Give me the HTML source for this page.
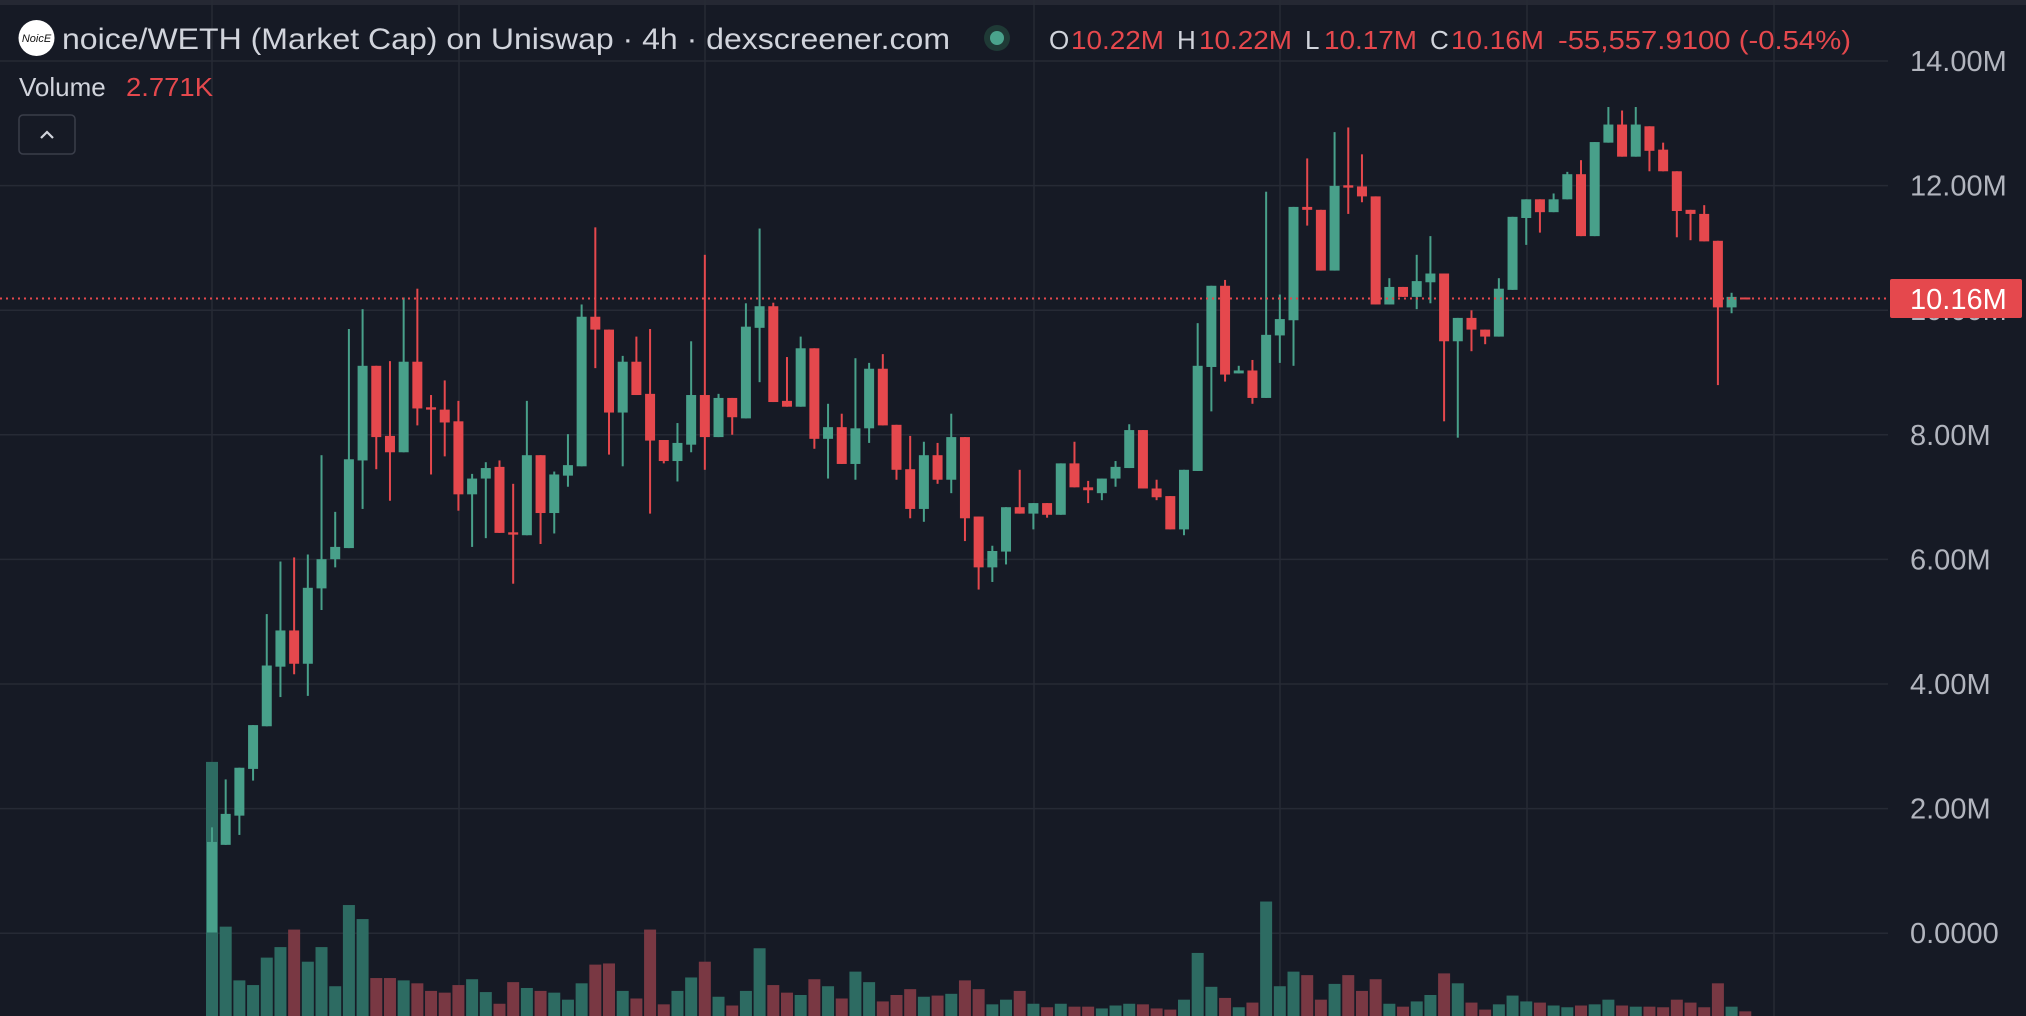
<!DOCTYPE html>
<html><head><meta charset="utf-8"><style>
html,body{margin:0;padding:0;background:#161a25;width:2026px;height:1016px;overflow:hidden}
svg{display:block}
text{font-family:"Liberation Sans",sans-serif}
</style></head><body>
<svg id="s" width="2026" height="1016" viewBox="0 0 2026 1016" xmlns="http://www.w3.org/2000/svg">
<rect width="2026" height="1016" fill="#161a25"/>
<rect width="2026" height="5" fill="#252833"/>
<g id="grid" stroke="#262a35" stroke-width="1.5"></g>
<g id="vol"></g>
<g id="cdl"></g>
<line x1="0" y1="298.5" x2="1890" y2="298.5" stroke="#e5484d" stroke-width="2" stroke-dasharray="2,4"/>
<g id="axis" font-size="29" fill="#b2b5be"></g>
<rect x="1890" y="279" width="132" height="39" rx="2" fill="#e5484d"/>
<text x="1910" y="309" font-size="29" fill="#ffffff">10.16M</text>
<circle cx="36.5" cy="38" r="18" fill="#ffffff"/>
<text x="36.5" y="42" font-size="11" fill="#111" text-anchor="middle" font-style="italic">NoicE</text>
<text x="62" y="49" font-size="30" fill="#d1d4dc" textLength="888" lengthAdjust="spacingAndGlyphs">noice/WETH (Market Cap) on Uniswap · 4h · dexscreener.com</text>
<circle cx="997" cy="38" r="13" fill="#1f3a36"/>
<circle cx="997" cy="38" r="7" fill="#4aa38c"/>
<g font-size="26">
<text x="1049" y="49" fill="#d1d4dc">O</text><text x="1071" y="49" fill="#e5484d" textLength="93" lengthAdjust="spacingAndGlyphs">10.22M</text>
<text x="1177" y="49" fill="#d1d4dc">H</text><text x="1199" y="49" fill="#e5484d" textLength="93" lengthAdjust="spacingAndGlyphs">10.22M</text>
<text x="1305" y="49" fill="#d1d4dc">L</text><text x="1324" y="49" fill="#e5484d" textLength="93" lengthAdjust="spacingAndGlyphs">10.17M</text>
<text x="1430" y="49" fill="#d1d4dc">C</text><text x="1451" y="49" fill="#e5484d" textLength="93" lengthAdjust="spacingAndGlyphs">10.16M</text>
<text x="1558" y="49" fill="#e5484d" textLength="293" lengthAdjust="spacingAndGlyphs">-55,557.9100 (-0.54%)</text>
</g>
<text x="19" y="96" font-size="26" fill="#d1d4dc">Volume</text>
<text x="126" y="96" font-size="26" fill="#e5484d" textLength="87" lengthAdjust="spacingAndGlyphs">2.771K</text>
<rect x="19" y="115" width="56" height="39" rx="4" fill="#161a25" stroke="#3a3e4a" stroke-width="1.5"/>
<polyline points="41,138 47,132 53,138" fill="none" stroke="#d1d4dc" stroke-width="2.2"/>
</svg>
<script>
var NS="http://www.w3.org/2000/svg";
function el(p,t,a){var e=document.createElementNS(NS,t);for(var k in a)e.setAttribute(k,a[k]);p.appendChild(e);return e;}
var grid=document.getElementById('grid');
[212,459,705,1034,1280,1527,1774].forEach(function(x){el(grid,'line',{x1:x,y1:0,x2:x,y2:1016});});
var labels=['14.00M','12.00M','10.00M','8.00M','6.00M','4.00M','2.00M','0.0000'];
var axis=document.getElementById('axis');
for(var k=0;k<8;k++){var y=61+k*124.6;el(grid,'line',{x1:0,y1:y,x2:1888,y2:y});
var t=el(axis,'text',{x:1910,y:y+10});t.textContent=labels[k];}
var D=`g 1270 1425 1245 1425 1133
g 1222 1275 1163 1275 1415
g 1143 1225 1143 1258 1507
g 1070 1145 1070 1165 1515
g 968 1072 880 1072 1468
g 908 970 790 1022 1450
r 908 965 783 983 1420
g 835 965 778 1020 1475
g 786 836 608 873 1450
g 765 786 705 800 1517
g 615 767 392 767 1378
g 455 617 358 700 1402
r 455 577 455 632 1503
r 575 603 447 686 1503
g 448 603 338 603 1507
r 448 528 323 557 1512
r 526 530 505 641 1525
r 530 552 480 610 1528
r 550 675 515 703 1515
g 648 675 640 765 1505
g 630 648 620 750 1527
r 628 741 617 741 1547
r 740 744 657 828 1510
g 608 745 515 745 1520
r 608 707 608 760 1525
g 641 707 636 742 1528
g 625 643 572 662 1540
g 371 627 350 627 1512
r 371 393 218 459 1480
r 393 535 393 607 1478
g 448 535 438 627 1525
r 448 505 405 505 1538
r 503 583 392 708 1420
r 582 618 582 622 1548
g 587 618 553 653 1525
g 505 590 413 603 1502
r 505 577 265 633 1475
g 510 577 503 577 1535
r 510 543 510 573 1550
g 388 545 348 545 1525
g 353 390 220 483 1452
r 353 517 347 517 1515
r 515 525 440 525 1528
g 425 525 405 525 1532
r 425 580 425 597 1505
g 560 580 520 648 1517
r 560 623 537 623 1538
g 562 623 442 650 1492
g 460 562 450 587 1510
r 460 557 435 557 1543
r 556 633 556 650 1532
r 632 700 575 716 1522
g 608 700 585 722 1535
r 608 650 587 657 1533
g 577 650 537 673 1530
r 577 716 577 755 1507
r 713 800 713 838 1522
g 772 800 763 825 1548
g 697 773 697 795 1540
r 697 708 633 708 1525
g 690 708 690 735 1547
r 690 710 690 715 1553
g 622 710 622 710 1547
r 622 663 585 663 1552
r 663 668 652 690 1552
g 648 673 648 685 1555
g 628 648 618 662 1550
g 565 630 555 630 1547
r 565 665 565 665 1548
r 665 680 650 685 1555
r 678 735 678 735 1557
g 633 735 633 745 1540
g 455 635 382 635 1460
g 318 457 318 533 1518
r 318 470 308 482 1537
g 463 468 455 468 1553
r 463 510 445 520 1545
g 402 510 157 510 1372
g 375 403 333 450 1517
g 183 377 183 455 1492
r 183 188 100 215 1498
r 188 292 188 292 1540
g 147 292 55 292 1513
r 146 150 47 195 1498
r 148 165 93 175 1525
r 165 350 165 350 1505
g 320 350 305 350 1547
r 320 337 320 337 1552
g 310 337 265 358 1543
g 297 312 233 348 1532
r 297 413 297 550 1495
g 373 413 373 578 1512
r 373 393 360 430 1545
r 393 405 393 418 1557
g 323 405 305 405 1548
g 200 325 200 325 1533
g 170 202 170 248 1543
r 170 192 170 227 1545
g 170 192 160 192 1550
g 127 170 123 170 1553
r 127 233 103 233 1550
g 72 233 72 233 1548
g 42 73 12 73 1540
r 42 97 18 97 1550
g 42 97 12 97 1552
r 45 87 45 122 1552
r 85 122 73 122 1553
r 122 190 122 235 1540
r 188 195 188 240 1545
r 195 242 180 242 1553
r 241 355 241 488 1512
g 337 355 330 365 1552
r 338 341 338 341 1560`;
var rows=D.split('\n');var cg=document.getElementById('cdl'),vg=document.getElementById('vol');
function Y(v){return 100+v*0.5842;}
rows.forEach(function(r,i){var p=r.trim().split(/\s+/);var c=p[0]=='g';
var x=212+i*13.69;var col=c?'#48a08a':'#e5484d';var vcol=c?'#2d6b62':'#793843';
var vt=Y(+p[5]);el(vg,'rect',{x:x-6,y:vt,width:12,height:1016-vt,fill:vcol});
var wt=Y(+p[3]),wb=Y(+p[4]);el(cg,'rect',{x:x-1,y:wt,width:2,height:Math.max(wb-wt,1),fill:col});
var bt=Y(+p[1]),bb=Y(+p[2]);el(cg,'rect',{x:x-5,y:bt,width:10,height:Math.max(bb-bt,2),fill:col});});
</script>
</body></html>
